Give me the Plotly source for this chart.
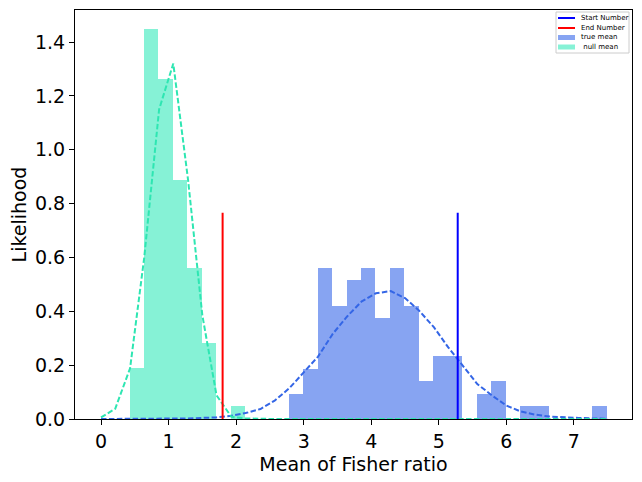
import plotly.graph_objects as go

# histogram of the null distribution (density)
null_edges = [0.43, 0.64, 0.85, 1.07, 1.28, 1.49, 1.70, 1.92, 2.13]
null_heights = [0.188, 1.450, 1.263, 0.888, 0.561, 0.282, 0.0, 0.047]

# histogram of the true distribution (density)
true_edges = [2.78, 2.99, 3.21, 3.42, 3.64, 3.85, 4.06, 4.28, 4.49, 4.70, 4.92, 5.13,
              5.35, 5.56, 5.77, 5.99, 6.20, 6.42, 6.63, 6.84, 7.06, 7.27, 7.49]
true_heights = [0.093, 0.187, 0.561, 0.421, 0.515, 0.561, 0.374, 0.561, 0.421, 0.140, 0.234,
                0.234, 0.0, 0.093, 0.140, 0.0, 0.047, 0.047, 0.0, 0.0, 0.0, 0.047]

# kde curves, sampled on a coarse grid
kde_x = [0.00, 0.21, 0.43, 0.64, 0.86, 1.07, 1.29, 1.50, 1.71, 1.93, 2.14, 2.36,
         2.57, 2.79, 3.00, 3.21, 3.43, 3.64, 3.86, 4.07, 4.29, 4.50, 4.71, 4.93,
         5.14, 5.36, 5.57, 5.79, 6.00, 6.21, 6.43, 6.64, 6.86, 7.07, 7.29, 7.50]
null_kde = [0.006, 0.038, 0.188, 0.600, 1.150, 1.320, 0.885, 0.385, 0.088, 0.008, 0.002, 0.0,
            0.0, 0.0, 0.0, 0.0, 0.0, 0.0, 0.0, 0.0, 0.0, 0.0, 0.0, 0.0,
            0.0, 0.0, 0.0, 0.0, 0.0, 0.0, 0.0, 0.0, 0.0, 0.0, 0.0, 0.0]
true_kde = [0.0, 0.0, 0.0, 0.0, 0.001, 0.001, 0.002, 0.004, 0.006, 0.012, 0.022, 0.037,
            0.068, 0.115, 0.173, 0.231, 0.316, 0.380, 0.437, 0.467, 0.475, 0.449, 0.402, 0.340,
            0.266, 0.198, 0.130, 0.087, 0.050, 0.028, 0.016, 0.009, 0.005, 0.004, 0.002, 0.001]

start_number = 5.28
end_number = 1.80
line_top = 0.766

legend_labels = ["Start Number", "End Number", "true mean", " null mean"]

BLUE_BAR = "rgb(135,164,242)"
GREEN_BAR = "rgb(134,242,214)"
BLUE_LINE = "rgb(52,102,230)"
GREEN_LINE = "rgb(46,230,178)"
DASH = "5.5px,2.4px"


def bar_geom(edges):
    centers = [(a + b) / 2 for a, b in zip(edges[:-1], edges[1:])]
    widths = [b - a for a, b in zip(edges[:-1], edges[1:])]
    return centers, widths


fig = go.Figure()

tc, tw = bar_geom(true_edges)
nc, nw = bar_geom(null_edges)

fig.add_trace(go.Bar(x=tc, y=true_heights, width=tw, marker=dict(color=BLUE_BAR, line_width=0),
                     name="true mean"))
fig.add_trace(go.Scatter(x=kde_x, y=true_kde, mode="lines",
                         line=dict(color=BLUE_LINE, width=2, dash=DASH)))
fig.add_trace(go.Bar(x=nc, y=null_heights, width=nw, marker=dict(color=GREEN_BAR, line_width=0),
                     name=" null mean"))
fig.add_trace(go.Scatter(x=kde_x, y=null_kde, mode="lines",
                         line=dict(color=GREEN_LINE, width=2, dash=DASH)))

fig.add_trace(go.Scatter(x=[start_number, start_number], y=[0, line_top], mode="lines",
                         name="Start Number", line=dict(color="blue", width=2)))
fig.add_trace(go.Scatter(x=[end_number, end_number], y=[0, line_top], mode="lines",
                         name="End Number", line=dict(color="red", width=2)))

# small matplotlib-like legend drawn by hand (plotly's legend rows are too tall)
# page area of the plot: x 75..632, y 10..419
def px(x):
    return (x - 75) / 557


def py(y):
    return (419 - y) / 409


fig.add_shape(type="rect", xref="paper", yref="paper",
              x0=px(556), x1=px(629), y0=py(53), y1=py(12),
              line=dict(color="#cccccc", width=1), fillcolor="rgba(255,255,255,0.8)")
handle_colors = ["blue", "red", BLUE_BAR, GREEN_BAR]
row_y = [18, 28, 37.5, 47]
for i, (lab, col) in enumerate(zip(legend_labels, handle_colors)):
    y = row_y[i]
    if i < 2:
        fig.add_shape(type="line", xref="paper", yref="paper",
                      x0=px(558), x1=px(575), y0=py(y), y1=py(y),
                      line=dict(color=col, width=2))
    else:
        fig.add_shape(type="rect", xref="paper", yref="paper",
                      x0=px(558), x1=px(575), y0=py(y + 2.5), y1=py(y - 2.5),
                      line=dict(width=0), fillcolor=col)
    fig.add_annotation(x=px(579), y=py(y), xref="paper", yref="paper",
                       text=lab.replace(" ", "&nbsp;", 1) if lab.startswith(" ") else lab,
                       showarrow=False, xanchor="left", yanchor="middle",
                       font=dict(size=7, color="black"))

axis_style = dict(showline=True, mirror=True, linecolor="black", linewidth=1,
                  ticks="outside", ticklen=5, tickwidth=1, tickcolor="black",
                  showgrid=False, zeroline=False,
                  tickfont=dict(size=19, color="black"))

# the page body adds an 8px offset, so the figure is 8px smaller and margins adjusted
fig.update_layout(
    width=634, height=474,
    margin=dict(l=67, r=10, t=2, b=63),
    plot_bgcolor="white", paper_bgcolor="white",
    font=dict(family="DejaVu Sans", color="black"),
    barmode="overlay", bargap=0,
    showlegend=False,
)
fig.update_xaxes(range=[-0.385, 7.86], dtick=1, tick0=0,
                 title=dict(text="Mean of Fisher ratio", font=dict(size=19), standoff=6),
                 **axis_style)
fig.update_yaxes(range=[0, 1.519], dtick=0.2, tick0=0, tickformat=".1f",
                 title=dict(text="Likelihood", font=dict(size=19), standoff=6),
                 **axis_style)

fig.write_html("out.html")
